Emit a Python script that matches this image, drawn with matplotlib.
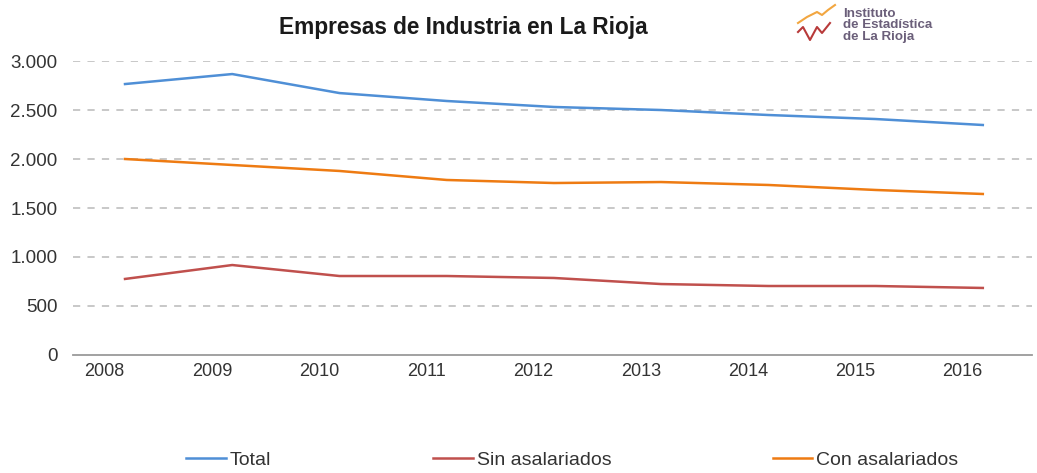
import numpy as np
import matplotlib
matplotlib.use("Agg")
import matplotlib.pyplot as plt
from matplotlib.lines import Line2D

# datos
years = ['2008', '2009', '2010', '2011', '2012', '2013', '2014', '2015', '2016']
total = [2765, 2867, 2673, 2592, 2531, 2500, 2449, 2408, 2347]
sin_asal = [776, 918, 806, 806, 786, 724, 704, 704, 684]
con_asal = [2000, 1939, 1878, 1786, 1755, 1765, 1735, 1684, 1643]
y_ticks = [0, 500, 1000, 1500, 2000, 2500, 3000]
y_labels = ['0', '500', '1.000', '1.500', '2.000', '2.500', '3.000']

plt.rcParams['font.family'] = ['Liberation Sans', 'DejaVu Sans']

W, H = 1037, 473
fig = plt.figure(figsize=(W / 100, H / 100), dpi=100)
ax = fig.add_axes([0.0704, 0.2495, 0.9246, 0.6215])

x = np.arange(len(years))
ax.plot(x, total, color='#4f8fd6', lw=1.8, label='Total')
ax.plot(x, sin_asal, color='#c0504d', lw=1.8, label='Sin asalariados')
ax.plot(x, con_asal, color='#ee7b12', lw=1.8, label='Con asalariados')

ax.set_xlim(-0.485, 8.457)
ax.set_ylim(0, 3000)
ax.set_yticks(y_ticks)
ax.set_yticklabels(y_labels, fontsize=13.5, color='#333333')
ax.set_xticks(x - 0.19)
ax.set_xticklabels(years, fontsize=13, color='#333333')
ax.tick_params(length=0, pad=6)
ax.tick_params(axis='y', pad=11)

for v in y_ticks[1:]:
    ax.axhline(v, color='#c4c4c4', lw=1.3, ls=(0, (4, 4)), zorder=0)
for s in ['top', 'right', 'left']:
    ax.spines[s].set_visible(False)
ax.spines['bottom'].set_color('#9a9a9a')
ax.spines['bottom'].set_linewidth(1.3)

fig.text(0.4465, 0.941, 'Empresas de Industria en La Rioja', ha='center', va='center',
         fontsize=16.3, fontweight='bold', color='#1a1a1a')

# logo
ox = [798, 807, 817, 822, 828, 835]
oy = [23, 17, 12, 15, 10, 5]
rx = [798, 803, 810, 817, 822, 830]
ry = [32, 27, 40, 27, 33, 23]
fig.add_artist(Line2D([v / W for v in ox], [1 - v / H for v in oy], color='#f2a640', lw=1.5))
fig.add_artist(Line2D([v / W for v in rx], [1 - v / H for v in ry], color='#b83a3a', lw=1.5))
fig.text(843 / W, 0.947, 'Instituto\nde Estadística\nde La Rioja', ha='left', va='center',
         fontsize=9.6, fontweight='bold', color='#6b5f7a', linespacing=0.95)

leg = fig.legend(loc='center', bbox_to_anchor=(0.552, 0.0275), ncol=3, frameon=False,
                 fontsize=14, handlelength=2.05, handletextpad=0.2, columnspacing=8.3)
for t in leg.get_texts():
    t.set_color('#333333')

fig.savefig('out.png', dpi=100, facecolor='white')
